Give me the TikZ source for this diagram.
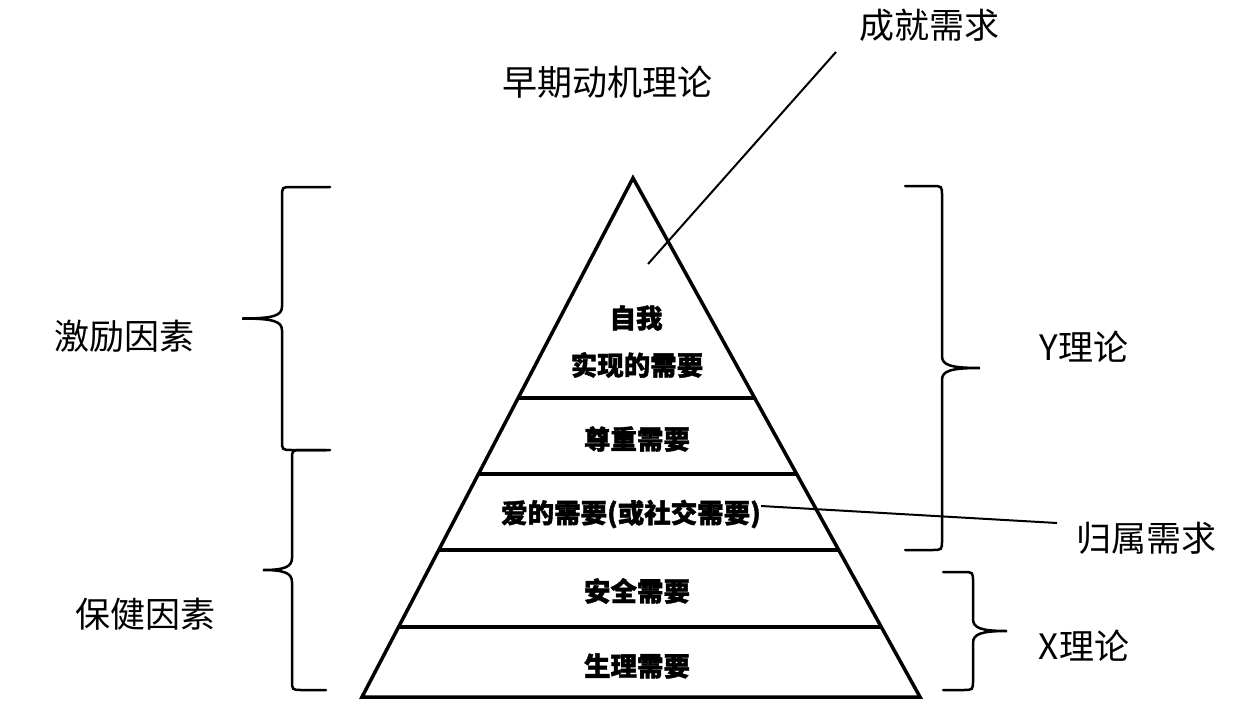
\documentclass[tikz,border=0pt]{standalone}
\usepackage{fontspec}
\newfontfamily\cjk{Noto Sans CJK SC}[BoldFeatures={FakeBold=1.5}]
\usetikzlibrary{calc}
% #1 end x, #2 spine x, #3 tip x, #4 top y, #5 bottom y, #6 direction (+1 brace opens right, -1 opens left)
\newcommand\curlybr[6]{%
  \pgfmathsetmacro\bm{(#4+#5)/2}%
  \draw[bracestyle] (#1,#4) -- ({#2+10*#6},#4) .. controls (#2,#4) .. (#2,{#4+10})
    -- (#2,{\bm-12}) .. controls (#2,{\bm-3}) and ({#2-8*#6},\bm) .. (#3,\bm)
    .. controls ({#2-8*#6},\bm) and (#2,{\bm+3}) .. (#2,{\bm+12})
    -- (#2,{#5-10}) .. controls (#2,#5) .. ({#2+10*#6},#5) -- (#1,#5);}
\begin{document}
\begin{tikzpicture}[x=1pt,y=-1pt,
  pyr/.style={line width=3.5pt, line join=miter},
  layer/.style={line width=3.5pt},
  inner/.style={font={\cjk\bfseries\fontsize{26.5}{30}\selectfont}, inner sep=0pt},
  outer/.style={font={\cjk\fontsize{35}{40}\selectfont}, inner sep=0pt},
  bracestyle/.style={line width=2.5pt, line cap=round},
  leader/.style={line width=2pt}]
\path[fill=white,use as bounding box] (0,0) rectangle (1238,722);
% pyramid
\coordinate (apex) at (633,178);
\coordinate (bl) at (362,697);
\coordinate (br) at (920,697);
\draw[pyr] (apex) -- (br) -- (bl) -- cycle;
\foreach \t in {0.4239,0.5703,0.7168,0.8651}{
  \draw[layer] ($(apex)!\t!(bl)$) -- ($(apex)!\t!(br)$);}
% inner labels
\node[inner] (self1) at (636,318) {自我};
\node[inner] (self2) at (637,365) {实现的需要};
\node[inner] (esteem) at (637,439) {尊重需要};
\node[inner] (love) at (631,514) {爱的需要(或社交需要)};
\node[inner] (safety) at (637,591) {安全需要};
\node[inner] (phys) at (637,666) {生理需要};
% outer labels
\node[outer] (early) at (607,82) {早期动机理论};
\node[outer] (ach) at (929,25) {成就需求};
\node[outer] (mot) at (124,336) {激励因素};
\node[outer] (hyg) at (145,614) {保健因素};
\node[outer] (yth) at (1084,347) {Y理论};
\node[outer] (xth) at (1084,646) {X理论};
\node[outer] (bel) at (1146,538) {归属需求};
% leaders
\coordinate (achin) at (648,264);
\coordinate (achend) at (836,52);
\draw[leader] (achin) -- (achend);
\coordinate (belend) at (1057,523);
\draw[leader] ($(love.east)+(0,-8)$) -- (belend);
% braces
\curlybr{330}{282}{242}{187}{450}{1}
\curlybr{326}{292}{263}{450}{690}{1}
\curlybr{905}{942}{980}{186}{550}{-1}
\curlybr{943}{973}{1007}{572}{690}{-1}
\end{tikzpicture}
\end{document}
